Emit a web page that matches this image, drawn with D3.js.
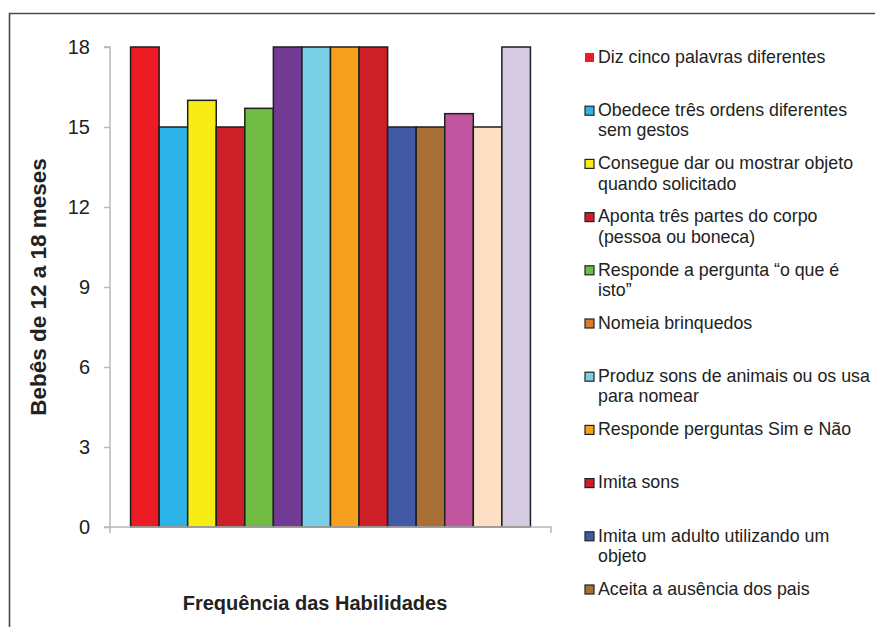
<!DOCTYPE html>
<html>
<head>
<meta charset="utf-8">
<script src="https://cdn.jsdelivr.net/npm/d3@7"></script>
<style>
  body { margin: 0; background: #fff; }
  text { font-family: "Liberation Sans", Arial, sans-serif; fill: #222; }
</style>
</head>
<body>
<div id="chart"></div>
<script>
"use strict";

// bar values (bebês), one per bar, left to right
var barValues = [18, 15, 16, 15, 15.7, 18, 18, 18, 18, 15, 15, 15.5, 15, 18];
var barColors = ["#ed1c24", "#2cb4e8", "#f7ec14", "#cd1f27", "#70bc45", "#723a94", "#79cfe5",
                 "#f6a01d", "#cd1f27", "#4259a6", "#a87037", "#c356a0", "#fde0c4", "#d5cce3"];

// legend (only the first 11 fit in the picture)
var legendLabels = [
  ["Diz cinco palavras diferentes"],
  ["Obedece três ordens diferentes", "sem gestos"],
  ["Consegue dar ou mostrar objeto", "quando solicitado"],
  ["Aponta três partes do corpo", "(pessoa ou boneca)"],
  ["Responde a pergunta \u201co que é", "isto\u201d"],
  ["Nomeia brinquedos"],
  ["Produz sons de animais ou os usa", "para nomear"],
  ["Responde perguntas Sim e Não"],
  ["Imita sons"],
  ["Imita um adulto utilizando um", "objeto"],
  ["Aceita a ausência dos pais"]
];
var legendColors = ["#ed1c24", "#2cb4e8", "#f7ec14", "#cd1f27", "#70bc45", "#dd7b2c",
                    "#79cfe5", "#f6a01d", "#cd1f27", "#4259a6", "#a87037"];

var yTicks = [0, 3, 6, 9, 12, 15, 18];

var W = 875, H = 627;
var plot = { left: 110, right: 551, top: 47, bottom: 527 };

var svg = d3.select("#chart").append("svg")
  .attr("width", W).attr("height", H);

// outer frame (left and top edges only visible)
svg.append("path")
  .attr("d", "M9.5," + H + "V13.5H" + W)
  .attr("fill", "none").attr("stroke", "#4a4a4a").attr("stroke-width", 1.6);

var x = d3.scaleBand()
  .domain(d3.range(barValues.length))
  .range([plot.left, plot.right])
  .paddingInner(0).paddingOuter(0.72);

var y = d3.scaleLinear().domain([0, 18]).range([plot.bottom, plot.top]);

// bars
svg.append("g").selectAll("rect")
  .data(barValues)
  .join("rect")
  .attr("x", function(d, i) { return x(i); })
  .attr("y", function(d) { return y(d); })
  .attr("width", x.bandwidth())
  .attr("height", function(d) { return y(0) - y(d); })
  .attr("fill", function(d, i) { return barColors[i]; })
  .attr("stroke", "#1e1e1e")
  .attr("stroke-width", 1.5);

// y axis
var yAxis = svg.append("g")
  .attr("transform", "translate(" + plot.left + ",0)")
  .call(d3.axisLeft(y).tickValues(yTicks).tickSize(6).tickPadding(14));
yAxis.selectAll("line, path").attr("stroke", "#b8b8b8").attr("stroke-width", 1.5);
yAxis.select(".domain").attr("d", "M-6," + y(18) + "H0V" + y(0));
yAxis.selectAll("text")
  .style("font-family", "'Liberation Sans', Arial, sans-serif")
  .style("font-size", "20px").attr("fill", "#222");

// x axis line with end ticks
svg.append("path")
  .attr("d", "M104," + y(0) + "H" + plot.right + "V" + (y(0) + 6) +
             "M" + plot.left + "," + y(0) + "V" + (y(0) + 6))
  .attr("fill", "none").attr("stroke", "#b8b8b8").attr("stroke-width", 1.5);

// axis titles
svg.append("text")
  .attr("x", 315).attr("y", 610)
  .attr("text-anchor", "middle")
  .style("font-size", "20px").style("font-weight", "bold")
  .text("Frequência das Habilidades");

svg.append("text")
  .attr("transform", "translate(46,287) rotate(-90)")
  .attr("text-anchor", "middle")
  .style("font-size", "22.5px").style("font-weight", "bold")
  .text("Bebês de 12 a 18 meses");

// legend
var lg = svg.append("g");
legendLabels.forEach(function(lines, i) {
  var ly = 58 + 53.2 * i;
  lg.append("rect")
    .attr("x", 585).attr("y", ly - 5)
    .attr("width", 9).attr("height", 9)
    .attr("fill", legendColors[i])
    .attr("stroke", i === 0 ? "none" : "#222").attr("stroke-width", 1.2);
  lines.forEach(function(t, j) {
    lg.append("text")
      .attr("x", 598).attr("y", ly + 20.5 * j)
      .attr("dominant-baseline", "middle")
      .style("font-size", "17.8px")
      .text(t);
  });
});
</script>
</body>
</html>
